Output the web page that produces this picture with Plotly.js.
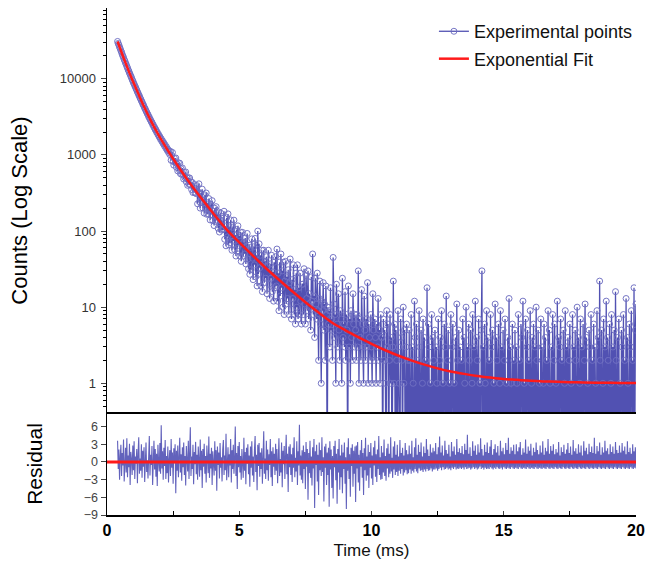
<!DOCTYPE html>
<html>
<head>
<meta charset="utf-8">
<script src="https://cdn.plot.ly/plotly-3.0.1.min.js"></script>
<style>html,body{margin:0;padding:0;background:#fff;}#chart{width:646px;height:564px;}</style>
</head>
<body>
<div id="chart"></div>
<script>
// Time axis of the experimental decay (ms)
const timeMs = [
0.4,0.425,0.45,0.475,0.5,0.525,0.55,0.575,0.6,0.625,0.65,0.675,0.7,0.725,0.75,0.775,0.8,0.825,0.85,0.875,0.9,0.925,0.95,0.975,1,1.025,1.05,1.075,1.1,1.125,1.15,1.175,1.2,1.225,1.25,1.275,1.3,1.325,1.35,1.375,
1.4,1.425,1.45,1.475,1.5,1.525,1.55,1.575,1.6,1.625,1.65,1.675,1.7,1.725,1.75,1.775,1.8,1.825,1.85,1.875,1.9,1.925,1.95,1.975,2,2.025,2.05,2.075,2.1,2.125,2.15,2.175,2.2,2.225,2.25,2.275,2.3,2.325,2.35,2.375,
2.4,2.425,2.45,2.475,2.5,2.525,2.55,2.575,2.6,2.625,2.65,2.675,2.7,2.725,2.75,2.775,2.8,2.825,2.85,2.875,2.9,2.925,2.95,2.975,3,3.025,3.05,3.075,3.1,3.125,3.15,3.175,3.2,3.225,3.25,3.275,3.3,3.325,3.35,3.375,
3.4,3.425,3.45,3.475,3.5,3.525,3.55,3.575,3.6,3.625,3.65,3.675,3.7,3.725,3.75,3.775,3.8,3.825,3.85,3.875,3.9,3.925,3.95,3.975,4,4.025,4.05,4.075,4.1,4.125,4.15,4.175,4.2,4.225,4.25,4.275,4.3,4.325,4.35,4.375,
4.4,4.425,4.45,4.475,4.5,4.525,4.55,4.575,4.6,4.625,4.65,4.675,4.7,4.725,4.75,4.775,4.8,4.825,4.85,4.875,4.9,4.925,4.95,4.975,5,5.025,5.05,5.075,5.1,5.125,5.15,5.175,5.2,5.225,5.25,5.275,5.3,5.325,5.35,5.375,
5.4,5.425,5.45,5.475,5.5,5.525,5.55,5.575,5.6,5.625,5.65,5.675,5.7,5.725,5.75,5.775,5.8,5.825,5.85,5.875,5.9,5.925,5.95,5.975,6,6.025,6.05,6.075,6.1,6.125,6.15,6.175,6.2,6.225,6.25,6.275,6.3,6.325,6.35,6.375,
6.4,6.425,6.45,6.475,6.5,6.525,6.55,6.575,6.6,6.625,6.65,6.675,6.7,6.725,6.75,6.775,6.8,6.825,6.85,6.875,6.9,6.925,6.95,6.975,7,7.025,7.05,7.075,7.1,7.125,7.15,7.175,7.2,7.225,7.25,7.275,7.3,7.325,7.35,7.375,
7.4,7.425,7.45,7.475,7.5,7.525,7.55,7.575,7.6,7.625,7.65,7.675,7.7,7.725,7.75,7.775,7.8,7.825,7.85,7.875,7.9,7.925,7.95,7.975,8,8.025,8.05,8.075,8.1,8.125,8.15,8.175,8.2,8.225,8.25,8.275,8.3,8.325,8.35,8.375,
8.4,8.425,8.45,8.475,8.5,8.525,8.55,8.575,8.6,8.625,8.65,8.675,8.7,8.725,8.75,8.775,8.8,8.825,8.85,8.875,8.9,8.925,8.95,8.975,9,9.025,9.05,9.075,9.1,9.125,9.15,9.175,9.2,9.225,9.25,9.275,9.3,9.325,9.35,9.375,
9.4,9.425,9.45,9.475,9.5,9.525,9.55,9.575,9.6,9.625,9.65,9.675,9.7,9.725,9.75,9.775,9.8,9.825,9.85,9.875,9.9,9.925,9.95,9.975,10,10.025,10.05,10.075,10.1,10.125,10.15,10.175,10.2,10.225,10.25,10.275,10.3,10.325,10.35,10.375,
10.4,10.425,10.45,10.475,10.5,10.525,10.55,10.575,10.6,10.625,10.65,10.675,10.7,10.725,10.75,10.775,10.8,10.825,10.85,10.875,10.9,10.925,10.95,10.975,11,11.025,11.05,11.075,11.1,11.125,11.15,11.175,11.2,11.225,11.25,11.275,11.3,11.325,11.35,11.375,
11.4,11.425,11.45,11.475,11.5,11.525,11.55,11.575,11.6,11.625,11.65,11.675,11.7,11.725,11.75,11.775,11.8,11.825,11.85,11.875,11.9,11.925,11.95,11.975,12,12.025,12.05,12.075,12.1,12.125,12.15,12.175,12.2,12.225,12.25,12.275,12.3,12.325,12.35,12.375,
12.4,12.425,12.45,12.475,12.5,12.525,12.55,12.575,12.6,12.625,12.65,12.675,12.7,12.725,12.75,12.775,12.8,12.825,12.85,12.875,12.9,12.925,12.95,12.975,13,13.025,13.05,13.075,13.1,13.125,13.15,13.175,13.2,13.225,13.25,13.275,13.3,13.325,13.35,13.375,
13.4,13.425,13.45,13.475,13.5,13.525,13.55,13.575,13.6,13.625,13.65,13.675,13.7,13.725,13.75,13.775,13.8,13.825,13.85,13.875,13.9,13.925,13.95,13.975,14,14.025,14.05,14.075,14.1,14.125,14.15,14.175,14.2,14.225,14.25,14.275,14.3,14.325,14.35,14.375,
14.4,14.425,14.45,14.475,14.5,14.525,14.55,14.575,14.6,14.625,14.65,14.675,14.7,14.725,14.75,14.775,14.8,14.825,14.85,14.875,14.9,14.925,14.95,14.975,15,15.025,15.05,15.075,15.1,15.125,15.15,15.175,15.2,15.225,15.25,15.275,15.3,15.325,15.35,15.375,
15.4,15.425,15.45,15.475,15.5,15.525,15.55,15.575,15.6,15.625,15.65,15.675,15.7,15.725,15.75,15.775,15.8,15.825,15.85,15.875,15.9,15.925,15.95,15.975,16,16.025,16.05,16.075,16.1,16.125,16.15,16.175,16.2,16.225,16.25,16.275,16.3,16.325,16.35,16.375,
16.4,16.425,16.45,16.475,16.5,16.525,16.55,16.575,16.6,16.625,16.65,16.675,16.7,16.725,16.75,16.775,16.8,16.825,16.85,16.875,16.9,16.925,16.95,16.975,17,17.025,17.05,17.075,17.1,17.125,17.15,17.175,17.2,17.225,17.25,17.275,17.3,17.325,17.35,17.375,
17.4,17.425,17.45,17.475,17.5,17.525,17.55,17.575,17.6,17.625,17.65,17.675,17.7,17.725,17.75,17.775,17.8,17.825,17.85,17.875,17.9,17.925,17.95,17.975,18,18.025,18.05,18.075,18.1,18.125,18.15,18.175,18.2,18.225,18.25,18.275,18.3,18.325,18.35,18.375,
18.4,18.425,18.45,18.475,18.5,18.525,18.55,18.575,18.6,18.625,18.65,18.675,18.7,18.725,18.75,18.775,18.8,18.825,18.85,18.875,18.9,18.925,18.95,18.975,19,19.025,19.05,19.075,19.1,19.125,19.15,19.175,19.2,19.225,19.25,19.275,19.3,19.325,19.35,19.375,
19.4,19.425,19.45,19.475,19.5,19.525,19.55,19.575,19.6,19.625,19.65,19.675,19.7,19.725,19.75,19.775,19.8,19.825,19.85,19.875,19.9,19.925,19.95,19.975,20
];

// Experimental counts
const expCounts = [
30950,29100,27750,26100,24900,23400,22350,21000,19900,19050,17900,17150,16150,15500,14550,13950,13150,12600,11900,11450,10800,10400,9780,9400,8880,8560,8090,7800,7380,7120,6710,6500,6130,5950,5600,5430,5120,4980,4690,4550,
4330,4110,3990,3780,3670,3470,3390,3180,3120,2930,2890,2710,2680,2500,2480,2310,2300,2140,2150,1990,1990,1850,1860,1720,1740,1600,1630,1500,1530,1400,1440,1310,1350,1230,1270,1150,1190,1080,1120,1010,
1115,849,984,1076,824,735,899,792,912,689,760,617,790,643,778,568,658,554,674,565,482,587,501,597,443,499,399,503,412,498,408,439,351,435,321,374,408,318,356,310,
395,228,325,417,242,200,315,248,355,201,257,172,298,200,316,166,236,168,267,191,140,224,165,251,137,182,118,199,133,209,140,169,109,178,97,138,172,103,138,105,
106,182,78,116,64,150,84,168,66,113,70,140,86,56,112,74,139,57,89,47,105,59,117,65,87,47,97,40,68,96,47,71,50,81,37,63,93,43,32,65,
27,61,31,79,44,23,62,36,80,25,48,19,100,27,68,33,48,19,56,16,37,56,21,40,24,46,15,35,56,20,13,37,24,48,16,29,12,39,18,46,
19,58,12,28,9,39,14,50,18,30,10,39,8,22,40,11,25,13,31,8,21,43,11,7,23,13,36,8,17,6,28,10,36,7,18,8,28,12,6,20,
20,8,32,11,6,26,13,9,30,7,15,10,5,25,12,50,8,14,4,24,11,7,28,9,2,13,22,6,1,12,9,21,5,11,2,19,8,0,10,6,
9,3,18,5,7,2,45,11,4,8,1,20,6,3,15,5,2,9,7,1,24,4,6,3,16,2,8,5,0,19,3,7,1,9,4,2,15,6,3,8,
5,2,8,3,30,1,7,4,2,17,6,3,1,14,5,2,7,3,21,1,6,4,2,8,3,1,15,5,2,7,4,1,6,3,13,2,5,1,8,4,
4,0,7,2,5,1,0,9,3,6,0,2,8,1,4,0,3,22,1,6,0,5,2,0,9,3,1,0,7,4,2,0,10,1,5,0,3,6,0,2,
0,5,2,0,8,0,3,1,0,12,4,0,6,0,2,0,9,3,0,5,0,1,7,0,4,0,2,0,18,0,6,3,0,1,0,8,0,4,2,0,
5,0,3,1,0,7,0,2,4,0,9,0,1,0,6,3,0,14,0,2,5,0,1,0,8,0,3,6,0,1,0,4,0,11,2,0,5,0,3,0,
2,0,7,0,4,1,0,10,0,3,0,6,2,0,5,0,1,8,0,3,0,12,0,4,2,0,7,0,1,0,5,30,0,3,0,6,1,0,9,0,
4,0,2,0,8,0,3,5,0,1,0,11,0,4,2,0,6,0,1,9,0,3,0,5,0,2,7,0,1,0,4,0,13,0,3,1,0,6,0,2,
0,5,0,3,1,0,8,0,2,0,6,4,0,12,0,1,0,7,0,3,5,0,2,0,9,0,1,4,0,6,0,3,0,10,2,0,5,0,1,0,
7,0,3,0,1,6,0,4,0,2,0,9,0,5,1,0,3,0,8,0,2,6,0,1,0,12,0,4,0,3,7,0,2,0,5,0,1,9,0,3,
0,4,0,2,6,0,1,0,8,0,3,0,5,2,0,10,0,4,0,1,7,0,3,0,6,0,2,11,0,4,0,1,0,5,3,0,8,0,2,0,
6,0,3,1,0,9,0,4,0,22,2,0,5,0,1,7,0,3,0,12,0,4,2,0,6,0,1,8,0,3,0,5,0,16,2,0,4,0,7,0,
1,0,5,3,0,8,0,2,0,13,0,4,1,0,6,0,3,9,0,2,0,18,0,5,11
];

// Exponential fit curve
const fitTime = [0.4,0.5,0.6,0.7,0.8,0.9,1.0,1.2,1.4,1.6,1.8,2.0,2.5,3.0,3.5,4.0,4.5,5.0,5.5,6.0,6.5,7.0,7.5,8.0,
8.5,9.0,9.5,10,10.5,11,11.5,12,12.5,13,13.5,14,14.5,15,15.5,16,16.5,17,17.5,18,18.5,19,19.5,20];
const fitCounts = [30900,24800,19950,16200,13180,10840,8910,6170,4315,3090,2265,1700,891,495,288,174,107,70.8,47.9,32.7,22.9,16.2,11.6,8.5,
6.3,5.0,4.04,3.30,2.74,2.32,2.00,1.76,1.57,1.43,1.33,1.25,1.19,1.14,1.11,1.08,1.06,1.05,1.035,1.026,1.02,1.015,1.011,1.008];

// Weighted residuals
const residuals = [
3.6,-1.2,2.1,-3.0,0.8,2.9,-2.4,1.5,-0.6,3.8,-3.3,0.2,2.4,-1.8,4.0,-2.6,1.1,-0.9,3.1,-3.9,1.7,0.5,-2.2,2.8,-1.4,3.5,-2.9,0.9,-0.3,2.2,-3.6,1.4,4.2,-2.0,0.6,-1.5,3.0,-2.7,1.9,-0.8,
2.5,-3.4,1.0,3.3,-1.7,0.3,-2.8,2.0,4.4,-2.3,1.2,-0.5,2.7,-3.9,0.8,3.6,-1.3,2.2,-2.5,1.4,-4.1,2.9,0.1,-1.6,3.2,-2.0,6.2,-1.1,1.8,-3.0,2.4,-0.7,3.7,-2.9,1.0,-1.9,2.6,-3.5,0.4,2.0,
-2.4,3.9,-1.0,1.6,-3.7,2.3,-0.2,3.0,-5.3,1.9,-1.5,2.8,-2.6,0.7,4.1,-1.8,1.3,-3.2,2.5,-0.9,3.3,-2.2,1.0,-4.0,2.7,0.2,-1.6,3.6,-2.9,1.5,5.9,-2.4,0.9,-1.2,2.9,-3.8,1.7,-0.4,3.4,-2.1,
1.2,-3.0,2.6,0.4,-2.5,3.8,-1.4,1.9,-4.4,2.2,-0.8,3.1,-2.0,1.0,-3.5,2.8,0.6,-1.9,4.3,-2.7,1.4,-1.1,2.4,-3.9,1.8,0.3,-2.3,3.5,-1.5,2.0,-4.9,2.6,-0.5,1.6,-2.8,3.2,-1.0,0.8,-3.3,2.1,
3.7,-2.2,1.1,-1.4,4.8,-3.1,0.7,2.5,-2.6,1.3,-0.6,3.9,-3.5,2.0,-1.2,2.9,-2.0,0.5,6.0,-2.4,1.5,-4.6,2.7,-0.9,3.4,-1.8,1.0,-3.0,2.2,0.2,-2.7,4.1,-1.5,1.7,-3.8,2.4,-0.3,3.0,-2.1,1.1,
-4.2,2.6,-1.0,3.5,-2.3,0.9,-3.4,2.0,4.4,-1.7,1.2,-4.8,2.9,-0.7,3.2,-2.5,1.6,-1.2,2.3,-3.7,1.0,5.2,-2.0,0.6,-2.9,3.6,-1.4,2.1,-3.2,1.3,-0.5,3.9,-2.6,1.8,-4.1,2.5,-0.8,1.4,-2.2,3.1,
-1.5,2.2,-3.6,1.2,4.0,-2.4,0.5,-1.8,3.3,-4.3,1.9,-0.4,2.7,-2.9,1.0,4.6,-2.1,1.4,-5.1,2.6,-0.9,3.0,-2.2,1.3,-3.4,2.4,-1.0,4.2,-2.6,0.7,-1.6,3.5,-3.9,1.8,-0.6,6.3,-2.3,1.1,-3.0,2.0,
-3.6,2.8,-1.2,1.7,-4.6,3.4,-0.8,2.2,-6.4,1.5,-1.9,3.6,-2.7,0.9,-4.0,2.5,-1.1,3.9,-7.8,1.8,-0.5,2.9,-3.3,1.2,-5.6,3.3,-1.4,2.0,-2.4,4.2,-1.7,0.8,-6.7,2.6,-1.0,3.1,-3.9,1.6,-2.2,2.4,
-7.6,3.5,-1.3,2.1,-4.4,1.0,-6.2,2.7,-0.9,3.6,-3.1,1.4,-7.1,2.2,-1.8,3.9,-4.7,1.1,-2.6,2.9,-5.3,1.6,-1.2,3.3,-3.7,0.8,-8.0,2.5,-1.5,4.0,-2.9,1.3,-5.9,2.4,-0.7,3.0,-4.2,1.9,-2.0,2.6,
-6.8,2.8,-1.1,3.4,-3.5,1.2,-4.9,2.0,-0.8,3.7,-2.7,1.5,-5.6,2.3,-1.4,4.1,-3.2,0.9,-2.3,2.9,-4.4,1.7,-1.0,3.2,-2.8,1.1,-3.9,2.5,-0.6,3.6,-2.5,1.3,-3.4,2.1,-1.2,4.4,-2.2,0.8,-3.0,2.7,
-2.9,1.6,-1.8,3.8,-2.4,1.0,-3.2,2.3,-1.1,3.1,-2.6,1.4,-2.0,4.2,-1.6,0.7,-2.7,2.6,-1.3,3.5,-2.2,1.2,-1.7,2.9,-2.4,0.9,-1.5,3.7,-2.0,1.5,-1.2,2.4,-2.3,1.1,-1.8,3.2,-1.4,2.0,-2.1,1.3,
-1.9,2.8,-1.3,1.4,-2.0,3.6,-1.5,0.8,-1.8,2.5,-1.2,4.0,-1.6,1.2,-1.9,2.9,-1.1,1.7,-1.5,3.3,-1.4,0.9,-1.7,2.6,-1.3,1.5,-1.6,3.9,-1.2,2.1,-1.5,1.0,-1.4,3.0,-1.1,1.6,-1.6,2.4,-1.3,1.8,
-1.3,3.2,-1.1,1.3,-1.5,2.5,-1.2,4.3,-1.0,1.6,-1.4,2.8,-0.9,1.1,-1.3,3.6,-1.2,2.0,-1.0,1.4,-1.3,2.9,-1.1,0.9,-1.4,3.4,-1.0,1.8,-1.2,2.6,-0.9,1.2,-1.3,3.9,-1.1,1.7,-1.2,2.3,-1.0,1.5,
-1.2,2.7,-1.0,1.3,-1.3,3.1,-0.9,2.0,-1.2,4.6,-1.1,1.4,-1.0,2.5,-1.3,1.0,-1.1,3.5,-0.9,1.9,-1.2,2.8,-1.0,1.2,-1.3,3.0,-1.1,1.6,-0.8,4.0,-1.2,2.2,-1.0,1.1,-1.3,2.9,-1.0,1.7,-1.2,3.3,
-1.1,1.5,-1.2,2.6,-0.9,3.7,-1.1,1.2,-1.3,2.2,-1.0,3.0,-1.2,1.6,-0.9,2.7,-1.1,1.1,-1.2,3.6,-1.0,1.8,-1.3,2.4,-0.9,1.3,-1.1,3.2,-1.2,2.0,-1.0,4.1,-1.1,1.4,-1.2,2.5,-0.9,1.9,-1.1,2.9,
-1.2,1.3,-1.0,3.0,-1.1,1.8,-1.2,2.5,-0.9,3.4,-1.1,1.2,-1.2,2.3,-1.0,1.6,-1.1,3.8,-1.2,1.4,-0.9,2.6,-1.1,1.9,-1.2,3.1,-1.0,1.1,-1.1,2.4,-1.2,1.7,-0.9,3.3,-1.1,2.0,-1.2,1.3,-1.0,2.8,
-1.1,1.6,-1.2,3.5,-1.0,1.2,-1.1,2.4,-1.2,1.8,-0.9,3.9,-1.1,1.4,-1.2,2.7,-1.0,1.9,-1.1,3.0,-1.2,1.3,-0.9,2.2,-1.1,1.6,-1.2,3.4,-1.0,1.1,-1.1,2.5,-1.2,1.7,-0.9,2.9,-1.1,1.4,-1.2,2.1,
-1.0,3.2,-1.1,1.5,-1.2,2.6,-0.9,1.2,-1.1,3.7,-1.2,1.8,-1.0,2.3,-1.1,1.4,-1.2,3.0,-0.9,1.6,-1.1,2.8,-1.2,1.1,-1.0,3.5,-1.1,1.9,-1.2,2.4,-0.9,1.3,-1.1,3.1,-1.2,1.7,-1.0,2.6,-1.1,1.5,
-1.2,4.1,-1.0,1.4,-1.1,2.7,-1.2,1.8,-0.9,3.3,-1.1,1.2,-1.2,2.5,-1.0,1.6,-1.1,3.6,-1.2,1.9,-0.9,2.3,-1.1,1.3,-1.2,3.0,-1.0,1.7,-1.1,2.6,-1.2,1.4,-0.9,3.4,-1.1,2.0,-1.2,1.5,-1.0,2.8,
-1.1,1.6,-1.2,3.2,-0.9,1.9,-1.1,2.6,-1.2,1.3,-1.0,3.5,-1.1,1.7,-1.2,2.4,-0.9,1.4,-1.1,3.0,-1.2,1.8,-1.0,2.5,-1.1
];

// Zero line of the residual panel
const residualFitTime = [0, 20];
const residualFitValues = [0, 0];

// Axis tick labels
const xTicks = [0, 5, 10, 15, 20];
const countTicks = [1, 10, 100, 1000, 10000];
const countTickText = ['1', '10', '100', '1000', '10000'];
const residualTicks = [-9, -6, -3, 0, 3, 6];

// Zero counts cannot sit on a log axis: draw them below the axis so the line drops to the bottom
const countsForLog = expCounts.map(c => (c > 0 ? c : 0.05));

const FONT = 'Arial, "Liberation Sans", sans-serif';

const traces = [
  {
    x: timeMs, y: countsForLog, xaxis: 'x', yaxis: 'y',
    type: 'scatter', mode: 'lines+markers', name: 'Experimental points',
    legendgroup: 'a',
    line: {color: 'rgba(50,50,165,0.85)', width: 1.3},
    marker: {symbol: 'circle-open', size: 6, color: 'rgba(112,112,194,0.95)', line: {width: 1}},
    cliponaxis: true
  },
  {
    x: fitTime, y: fitCounts, xaxis: 'x', yaxis: 'y',
    type: 'scatter', mode: 'lines', name: 'Exponential Fit',
    legendgroup: 'b',
    line: {color: '#ff1a1a', width: 2.5, shape: 'spline'}
  },
  {
    x: timeMs, y: residuals, xaxis: 'x', yaxis: 'y2',
    type: 'scatter', mode: 'lines', showlegend: false,
    line: {color: 'rgba(45,45,165,0.75)', width: 1.1}
  },
  {
    x: residualFitTime, y: residualFitValues, xaxis: 'x', yaxis: 'y2',
    type: 'scatter', mode: 'lines', showlegend: false,
    line: {color: '#ff1a1a', width: 3}
  }
];

const split = (515 - 413) / 507;

const layout = {
  width: 646, height: 564,
  margin: {l: 107, r: 10, t: 8, b: 49},
  paper_bgcolor: '#fff', plot_bgcolor: '#fff',
  font: {family: FONT, color: '#000'},
  showlegend: true,
  legend: {
    x: 0.618, y: 0.99, xanchor: 'left', yanchor: 'top',
    bgcolor: 'rgba(0,0,0,0)', font: {family: FONT, size: 18, color: '#111'},
    itemwidth: 30, tracegroupgap: 1, traceorder: 'grouped'
  },
  xaxis: {
    domain: [0, 1], anchor: 'y2', range: [0, 20],
    tickvals: xTicks, ticks: 'inside', ticklen: 4, tickwidth: 1,
    minor: {dtick: 2.5, ticks: 'inside', ticklen: 4, tickcolor: '#000'},
    showline: true, linecolor: '#000', linewidth: 1.5,
    showgrid: false, zeroline: false,
    tickfont: {family: FONT, size: 16, color: '#000', weight: 'bold'},
    title: {text: 'Time (ms)', font: {family: FONT, size: 17, color: '#111'}, standoff: 6}
  },
  yaxis: {
    domain: [split, 1], type: 'log', range: [-0.39, 4.93],
    tickvals: countTicks, ticktext: countTickText,
    ticks: 'outside', ticklen: 5, tickwidth: 1, ticklabelstandoff: 2,
    minor: {ticks: 'outside', ticklen: 3, dtick: 'D1', tickcolor: '#000', showgrid: false},
    showline: true, linecolor: '#000', linewidth: 1.5,
    showgrid: false, zeroline: false,
    tickfont: {family: FONT, size: 13, color: '#333'},
    title: {text: 'Counts (Log Scale)', font: {family: FONT, size: 22, color: '#000'}, standoff: 26}
  },
  yaxis2: {
    domain: [0, split], range: [-9, 8.3],
    tickvals: residualTicks, ticks: 'outside', ticklen: 5, tickwidth: 1,
    showline: true, linecolor: '#000', linewidth: 1.5,
    showgrid: false, zeroline: false,
    tickfont: {family: FONT, size: 12.5, color: '#444'},
    title: {text: 'Residual', font: {family: FONT, size: 21, color: '#000'}, standoff: 35}
  },
  shapes: [
    {type: 'line', xref: 'paper', yref: 'paper', x0: 0, x1: 1, y0: split, y1: split,
     line: {color: '#000', width: 2}}
  ]
};

Plotly.newPlot('chart', traces, layout, {staticPlot: true, displayModeBar: false});
</script>
</body>
</html>
